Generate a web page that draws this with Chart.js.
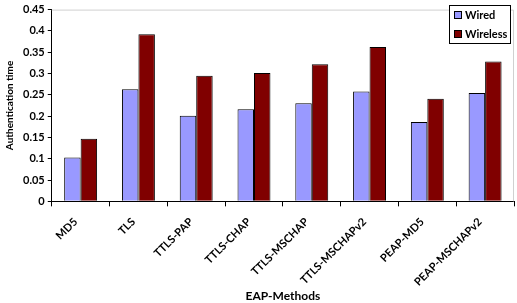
<!DOCTYPE html>
<html>
<head>
<meta charset="utf-8">
<script src="https://cdn.jsdelivr.net/npm/chart.js@4.4.0/dist/chart.umd.min.js"></script>
<style>
  html, body { margin: 0; padding: 0; background: #fff; }
  #wrap { width: 517px; height: 303px; }
</style>
</head>
<body>
<div id="wrap"><canvas id="mycanvas" width="517" height="303"></canvas></div>
<script>
var methods = ["MD5", "TLS", "TTLS-PAP", "TTLS-CHAP", "TTLS-MSCHAP", "TTLS-MSCHAPv2", "PEAP-MD5", "PEAP-MSCHAPv2"];
var wired = [0.103, 0.263, 0.201, 0.216, 0.230, 0.258, 0.186, 0.254];
var wireless = [0.147, 0.392, 0.295, 0.301, 0.322, 0.362, 0.241, 0.328];

var fontName = "Lato, 'Open Sans', sans-serif";

// light frame round the plot area + boxed legend in the top right corner
var frame = {
	id: "frame",
	beforeDatasetsDraw: function(chart) {
		var a = chart.chartArea, c = chart.ctx;
		c.save();
		c.strokeStyle = "#d0d0d0";
		c.lineWidth = 1;
		c.beginPath();
		c.moveTo(a.left, a.top + 0.5);
		c.lineTo(a.right - 0.5, a.top + 0.5);
		c.lineTo(a.right - 0.5, a.bottom);
		c.stroke();
		c.restore();
	},
	afterDraw: function(chart) {
		var a = chart.chartArea, c = chart.ctx;
		var sets = chart.data.datasets;
		var w = 62, h = 39;
		var x0 = Math.round(a.right) - 3 - w, y0 = Math.round(a.top) - 5;
		c.save();
		c.fillStyle = "#fff";
		c.fillRect(x0, y0, w, h);
		c.strokeStyle = "#000";
		c.lineWidth = 1;
		c.strokeRect(x0 + 0.5, y0 + 0.5, w - 1, h - 1);
		c.font = "bold 11px " + fontName;
		c.textBaseline = "middle";
		for (var i = 0; i < sets.length; i++) {
			var cy = y0 + 10 + i * 19;
			c.fillStyle = sets[i].backgroundColor;
			c.fillRect(x0 + 5, cy - 4, 8, 8);
			c.strokeStyle = "#000";
			c.strokeRect(x0 + 5.5, cy - 3.5, 7, 7);
			c.fillStyle = "#000";
			c.fillText(sets[i].label, x0 + 16, cy + 0.5);
		}
		c.restore();
	}
};

var chartdata = {
	labels: methods,
	datasets: [
		{
			label: "Wired",
			backgroundColor: "#9999ff",
			borderColor: "#000000",
			borderWidth: 1,
			data: wired
		},
		{
			label: "Wireless",
			backgroundColor: "#800000",
			borderColor: "#000000",
			borderWidth: 1,
			data: wireless
		}
	]
};

var ctx = document.getElementById("mycanvas");
var BarGraph = new Chart(ctx, {
	type: "bar",
	data: chartdata,
	plugins: [frame],
	options: {
		responsive: false,
		animation: false,
		layout: { padding: { top: 8, right: 3, left: 4, bottom: 0 } },
		datasets: { bar: { categoryPercentage: 0.57, barPercentage: 1.0 } },
		plugins: {
			tooltip: { enabled: false },
			legend: { display: false }
		},
		scales: {
			x: {
				offset: true,
				afterFit: function(scale) { scale.height -= 17; },
				grid: { display: true, drawOnChartArea: false, offset: true, color: "#000", tickLength: 5, tickColor: "#000" },
				border: { color: "#000", width: 1 },
				ticks: {
					color: "#000",
					font: { family: fontName, size: 11, weight: "bold" },
					minRotation: 45,
					maxRotation: 45,
					padding: 9,
					labelOffset: -5
				},
				title: {
					display: true,
					text: "EAP-Methods",
					color: "#000",
					font: { family: fontName, size: 12, weight: "bold" },
					padding: { top: 8, bottom: 0 }
				}
			},
			y: {
				min: 0,
				max: 0.45,
				grid: { display: true, drawOnChartArea: false, color: "#000", tickLength: 4, tickColor: "#000" },
				border: { color: "#000", width: 1 },
				ticks: {
					stepSize: 0.05,
					color: "#000",
					font: { family: fontName, size: 11, weight: "bold" },
					padding: 3,
					callback: function(v) { return Math.round(v * 100) / 100; }
				},
				title: {
					display: true,
					text: "Authentication time",
					color: "#000",
					font: { family: fontName, size: 10, weight: "bold" },
					padding: { top: 0, bottom: 4 }
				}
			}
		}
	}
});
</script>
</body>
</html>
